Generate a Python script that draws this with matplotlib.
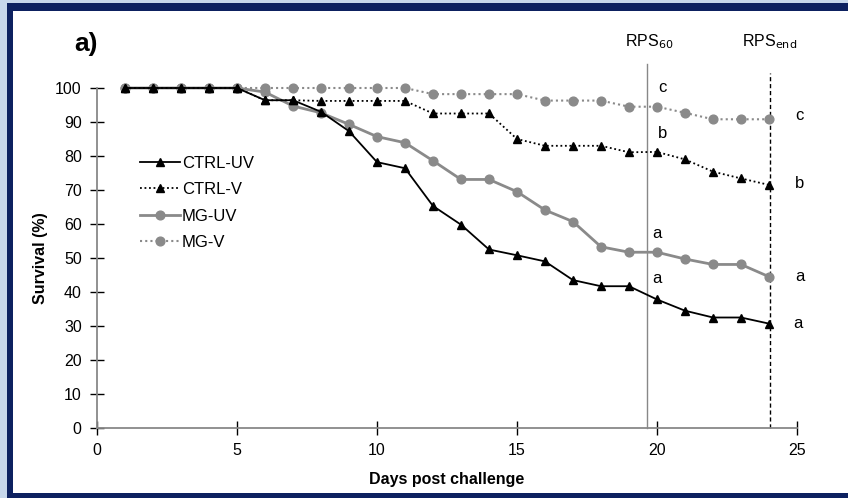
import matplotlib.pyplot as plt
from matplotlib.patches import Rectangle

plt.rcParams['font.family'] = ['Liberation Sans', 'DejaVu Sans']

days = list(range(1, 25))
ctrl_uv = [100, 100, 100, 100, 100, 96.4, 96.4, 93, 87.3, 78.2, 76.4, 65.3, 59.8, 52.5,
           50.8, 49, 43.5, 41.7, 41.7, 37.8, 34.5, 32.5, 32.5, 30.7]
ctrl_v = [100, 100, 100, 100, 100, 96.4, 96.4, 96.2, 96.2, 96.2, 96.2, 92.5, 92.5, 92.5,
          85, 83, 83, 83, 81.1, 81.2, 79, 75.4, 73.4, 71.5]
mg_uv = [100, 100, 100, 100, 100, 98.8, 94.7, 92.7, 89.3, 85.7, 83.9, 78.6, 73.1, 73.1,
         69.5, 64.1, 60.7, 53.3, 51.7, 51.7, 49.7, 48.1, 48.1, 44.5]
mg_v = [100, 100, 100, 100, 100, 100, 100, 100, 100, 100, 100, 98.2, 98.2, 98.2,
        98.2, 96.3, 96.3, 96.3, 94.5, 94.5, 92.7, 90.8, 90.8, 90.8]

rps60_day = 19.63
rpsend_day = 24.02
letters_rps60 = [("c", 20.2, 100), ("b", 20.2, 86.7), ("a", 20.0, 57.3), ("a", 20.0, 44)]
letters_end = [("c", 25.1, 91.8), ("b", 25.1, 72), ("a", 25.1, 44.7), ("a", 25.05, 30.6)]

W, H = 848, 498
fig = plt.figure(figsize=(W / 100, H / 100), dpi=100)
fig.patch.set_facecolor('#c7d7eb')

# background frame in its own axes so it sits under the plot
bg = fig.add_axes([0, 0, 1, 1], zorder=-5)
bg.set_xlim(0, W)
bg.set_ylim(H, 0)
bg.axis('off')
bg.add_patch(Rectangle((7, 3), W, H, facecolor='#0d2160', edgecolor='none'))
bg.add_patch(Rectangle((13, 11), W, 482, facecolor='white', edgecolor='none'))

ax = fig.add_axes([97 / W, 1 - 428 / H, 700 / W, 340 / H])
ax.set_facecolor('none')

gray = '#8a8a8a'
ax.plot(days, ctrl_uv, color='black', lw=1.3, marker='^', ms=6, label='CTRL-UV', clip_on=False, zorder=4)
ax.plot(days, ctrl_v, color='black', lw=1.3, ls=(0, (1, 1.5)), marker='^', ms=6, label='CTRL-V', clip_on=False, zorder=4)
ax.plot(days, mg_uv, color=gray, lw=2, marker='o', ms=6.3, label='MG-UV', clip_on=False, zorder=3)
ax.plot(days, mg_v, color=gray, lw=1.5, ls=(0, (1, 1.5)), marker='o', ms=6.3, label='MG-V', clip_on=False, zorder=3)

ax.plot([rps60_day, rps60_day], [0, 107], color='#888888', lw=1, clip_on=False, zorder=2)
ax.plot([rpsend_day, rpsend_day], [0, 104.5], color='black', lw=1, ls=(0, (3, 2)), clip_on=False, zorder=2)

ax.text(rps60_day + 0.1, 113.5, r'RPS$_{60}$', ha='center', va='center', fontsize=11.5)
ax.text(rpsend_day, 113.5, r'RPS$_{\mathrm{end}}$', ha='center', va='center', fontsize=11.5)
for s, x, y in letters_rps60 + letters_end:
    ax.text(x, y, s, ha='center', va='center', fontsize=12)

fig.text(86 / W, 1 - 44 / H, 'a)', fontsize=19, fontweight='bold', ha='center', va='center')

ax.set_xlim(0, 25)
ax.set_ylim(0, 100)
ax.set_xticks(range(0, 26, 5))
ax.set_yticks(range(0, 101, 10))
for side in ('top', 'right'):
    ax.spines[side].set_visible(False)
for side in ('left', 'bottom'):
    ax.spines[side].set_color('#888888')
    ax.spines[side].set_linewidth(1.3)
ax.tick_params(direction='inout', length=10, width=1, colors='black', labelsize=11.5)
ax.tick_params(axis='y', pad=6)
ax.tick_params(axis='x', pad=6)
ax.set_xlabel('Days post challenge', fontsize=11.5, fontweight='bold', labelpad=10)
ax.set_ylabel('Survival (%)', fontsize=11.5, fontweight='bold', labelpad=5)

ax.legend(loc='center left', bbox_to_anchor=(0.052, 0.662), frameon=False, fontsize=12,
          handlelength=2.4, handletextpad=0.1, labelspacing=0.68, borderaxespad=0)

fig.savefig('out.png', dpi=100, facecolor=fig.get_facecolor())
